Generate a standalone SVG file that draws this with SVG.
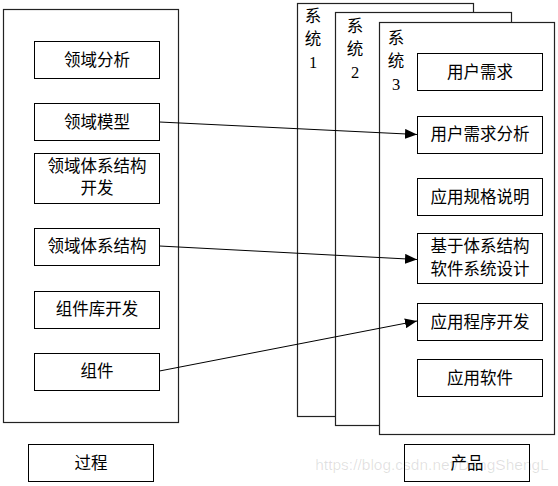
<svg xmlns="http://www.w3.org/2000/svg" width="558" height="486" viewBox="0 0 558 486">
<style>
.b{fill:#fff;stroke:#000;stroke-width:1}
.p{fill:#fff;stroke:#222;stroke-width:1.2}
.t{font-family:"Noto Sans CJK SC","Liberation Serif",serif;font-size:16.5px;fill:#000;text-anchor:middle}
.n{font-family:"Liberation Serif","Noto Sans CJK SC",serif;font-size:16.5px;fill:#000;text-anchor:middle}
.c{stroke:#000;stroke-width:1;fill:none}
</style>
<defs>
<marker id="ah" markerWidth="12" markerHeight="10" refX="12" refY="5" orient="auto" markerUnits="userSpaceOnUse">
<path d="M0,0 L12,5 L0,10 Z" fill="#000"/>
</marker>
</defs>
<g id="process-panel">
<rect class="p" x="3.5" y="9.5" width="175" height="413"/>
</g>
<g id="n-lyfx"><rect class="b" x="34.5" y="41.5" width="125" height="37"/><text class="t" x="97" y="66">领域分析</text></g>
<g id="n-lymx"><rect class="b" x="34.5" y="103.5" width="125" height="37"/><text class="t" x="97" y="128">领域模型</text></g>
<g id="n-lytxjgkf"><rect class="b" x="34.5" y="153.5" width="125" height="50"/><text class="t" x="97" y="172">领域体系结构</text><text class="t" x="97" y="194">开发</text></g>
<g id="n-lytxjg"><rect class="b" x="34.5" y="228.5" width="125" height="37"/><text class="t" x="97" y="252">领域体系结构</text></g>
<g id="n-zjkkf"><rect class="b" x="34.5" y="291.5" width="125" height="37"/><text class="t" x="97" y="315">组件库开发</text></g>
<g id="n-zj"><rect class="b" x="34.5" y="353.5" width="125" height="37"/><text class="t" x="97" y="377">组件</text></g>
<g id="n-gc"><rect class="b" x="28.5" y="444.5" width="125" height="37"/><text class="t" x="91" y="469">过程</text></g>

<g id="sys1"><rect class="p" x="297.5" y="3.5" width="176" height="413"/><text class="t" x="313" y="22">系</text><text class="t" x="313" y="45">统</text><text class="n" x="313" y="68">1</text></g>
<g id="sys2"><rect class="p" x="335.5" y="12.5" width="176" height="413"/><text class="t" x="355" y="32">系</text><text class="t" x="355" y="55">统</text><text class="n" x="355" y="78">2</text></g>
<g id="sys3"><rect class="p" x="379.5" y="22.5" width="175" height="412"/><text class="t" x="396" y="44">系</text><text class="t" x="396" y="67">统</text><text class="n" x="396" y="90">3</text></g>

<g id="n-yhxq"><rect class="b" x="417.5" y="53.5" width="125" height="37"/><text class="t" x="480" y="78">用户需求</text></g>
<g id="n-yhxqfx"><rect class="b" x="417.5" y="116.5" width="125" height="37"/><text class="t" x="480" y="140">用户需求分析</text></g>
<g id="n-yyggsm"><rect class="b" x="417.5" y="178.5" width="125" height="37"/><text class="t" x="480" y="203">应用规格说明</text></g>
<g id="n-jytxjg"><rect class="b" x="417.5" y="233.5" width="125" height="50"/><text class="t" x="480" y="252">基于体系结构</text><text class="t" x="480" y="275">软件系统设计</text></g>
<g id="n-yycxkf"><rect class="b" x="417.5" y="303.5" width="125" height="37"/><text class="t" x="480" y="328">应用程序开发</text></g>
<g id="n-yyrj"><rect class="b" x="417.5" y="359.5" width="125" height="37"/><text class="t" x="480" y="384">应用软件</text></g>
<g id="n-cp"><rect class="b" x="404.5" y="444.5" width="125" height="37"/><text class="t" x="467" y="469">产品</text></g>

<g id="connectors">
<line class="c" x1="159.5" y1="122" x2="417" y2="134.5" marker-end="url(#ah)"/>
<line class="c" x1="159.5" y1="246" x2="417" y2="259.5" marker-end="url(#ah)"/>
<line class="c" x1="159.5" y1="371" x2="417" y2="321" marker-end="url(#ah)"/>
</g>
<text x="432" y="470" font-family="Liberation Sans,Arial,sans-serif" font-size="15.5" fill="#000" fill-opacity="0.12" text-anchor="middle">https://blog.csdn.net/DengShengL</text>
</svg>
